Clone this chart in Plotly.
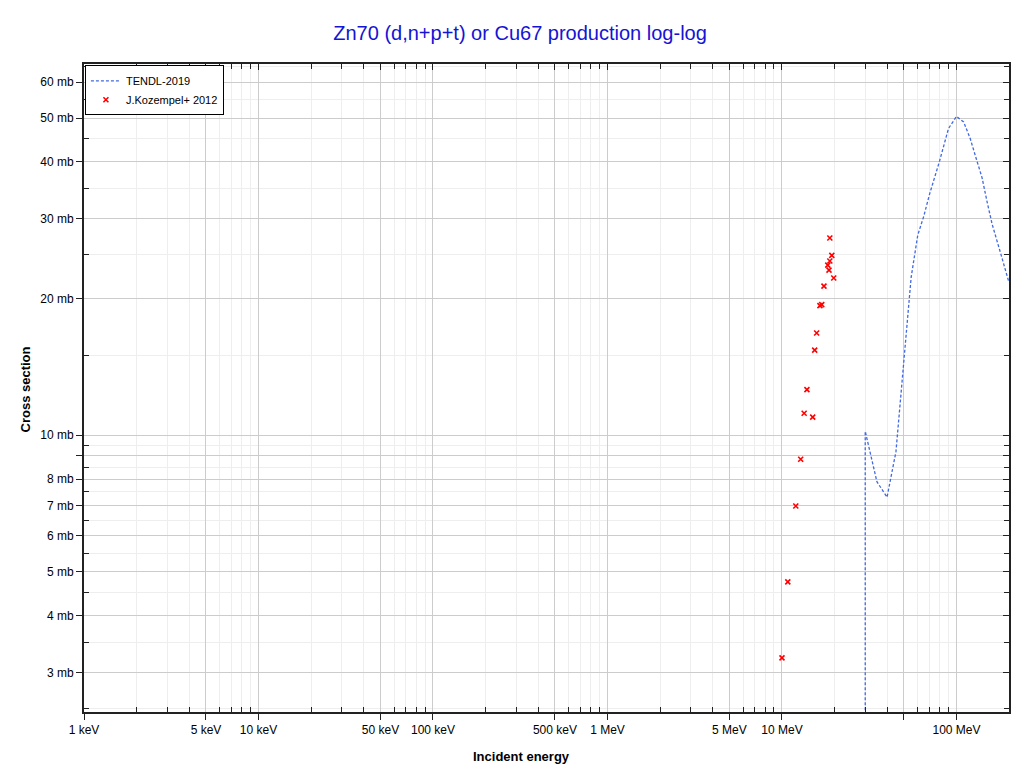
import numpy as np
import plotly.graph_objects as go

# TENDL-2019 evaluation (energy in MeV, cross section in mb)
tendl_e = [30, 30, 35, 37.5, 40, 45, 50, 55, 60, 65, 70, 80, 90, 100,
           110, 120, 130, 140, 150, 160, 180, 200]
tendl_xs = [0.001, 10.2, 7.9, 7.6, 7.3, 9.2, 14.7, 22.3, 27.6, 30.4, 33.9,
            40.2, 47.4, 50.4, 49.0, 45.0, 40.6, 37.0, 32.6, 29.2, 25.0, 21.7]

# J.Kozempel+ 2012 measurements
exp_e = [10.0, 10.8, 12.0, 12.8, 13.4, 15.0, 13.9, 15.4, 15.8, 16.5, 16.9,
         17.4, 19.8, 18.6, 18.3, 18.8, 19.3, 18.8]
exp_xs = [3.23, 4.75, 6.98, 8.85, 11.18, 10.96, 12.6, 15.4, 16.8, 19.3, 19.4,
          21.3, 22.2, 23.1, 23.7, 24.2, 24.9, 27.2]

x_ticks = [0.001, 0.005, 0.01, 0.05, 0.1, 0.5, 1, 5, 10, 50, 100]
x_labels = ["1 keV", "5 keV", "10 keV", "50 keV", "100 keV", "500 keV",
            "1 MeV", "5 MeV", "10 MeV", "", "100 MeV"]
x_minor = [m * d for d in [0.001, 0.01, 0.1, 1, 10, 100] for m in [2, 3, 4, 6, 7, 8, 9]]

y_ticks = [3, 4, 5, 6, 7, 8, 9, 10, 20, 30, 40, 50, 60]
y_labels = ["3 mb", "4 mb", "5 mb", "6 mb", "7 mb", "8 mb", "", "10 mb",
            "20 mb", "30 mb", "40 mb", "50 mb", "60 mb"]
y_minor = [2.5, 3.5, 4.5, 5.5, 6.5, 7.5, 8.5, 9.5, 15, 25, 35, 45, 55, 65]

x_range = [-3, np.log10(200)]
y_range = [0.39, 1.818]

font = "Liberation Sans, Arial, sans-serif"
major_grid = "#cccccc"
minor_grid = "#eeeeee"
axis_col = "#222222"

fig = go.Figure()
fig.add_trace(go.Scatter(
    x=tendl_e, y=tendl_xs, mode="lines", name="TENDL-2019",
    line=dict(color="#4169e1", width=1.3, dash="3px,2px"),
))
fig.add_trace(go.Scatter(
    x=exp_e, y=exp_xs, mode="markers", name="J.Kozempel+ 2012",
    marker=dict(symbol="x-thin", size=5, color="red",
                line=dict(color="red", width=1.6)),
))
# empty trace so the mirrored top/right axes get drawn
fig.add_trace(go.Scatter(x=[], y=[], xaxis="x2", yaxis="y2",
                         showlegend=False, hoverinfo="skip"))

axis_common = dict(showline=True, linecolor=axis_col, linewidth=2,
                   zeroline=False)

# page body has an 8px margin, keep the figure inside the 1020x773 window
fig.update_layout(
    width=1004, height=757,
    margin=dict(l=76, r=1, t=56, b=53),
    paper_bgcolor="white", plot_bgcolor="white",
    font=dict(family=font, size=12, color="black"),
    title=dict(text="Zn70 (d,n+p+t) or Cu67 production log-log",
               font=dict(size=20, color="#1414d4", family=font),
               x=0.51, xanchor="center", y=25 / 757, yref="container",
               yanchor="middle"),
    showlegend=True,
    legend=dict(x=0.001, y=0.998, xanchor="left", yanchor="top",
                bgcolor="white", bordercolor="black", borderwidth=1,
                font=dict(size=11, family=font), itemwidth=30,
                tracegroupgap=0),
    xaxis=dict(type="log", range=x_range, tickmode="array",
               tickvals=x_ticks, ticktext=x_labels, mirror=True,
               ticks="outside", ticklen=6, tickcolor=axis_col,
               showgrid=True, gridcolor=major_grid, gridwidth=1,
               minor=dict(tickmode="array", tickvals=x_minor,
                          ticks="inside", ticklen=5, tickcolor=axis_col,
                          showgrid=True, gridcolor=minor_grid),
               tickfont=dict(size=12), **axis_common),
    yaxis=dict(type="log", range=y_range, tickmode="array",
               tickvals=y_ticks, ticktext=y_labels, mirror=True,
               ticks="outside", ticklen=6, tickcolor=axis_col,
               showgrid=True, gridcolor=major_grid, gridwidth=1,
               minor=dict(tickmode="array", tickvals=y_minor,
                          ticks="inside", ticklen=5, tickcolor=axis_col,
                          showgrid=True, gridcolor=minor_grid),
               tickfont=dict(size=12), **axis_common),
    xaxis2=dict(type="log", range=x_range, overlaying="x", side="top",
                tickmode="array", tickvals=x_ticks, showticklabels=False,
                ticks="inside", ticklen=6, tickcolor=axis_col, showgrid=False,
                minor=dict(tickmode="array", tickvals=x_minor, ticks="inside",
                           ticklen=5, tickcolor=axis_col, showgrid=False),
                anchor="y2", **axis_common),
    yaxis2=dict(type="log", range=y_range, overlaying="y", side="right",
                tickmode="array", tickvals=y_ticks, showticklabels=False,
                ticks="inside", ticklen=6, tickcolor=axis_col, showgrid=False,
                minor=dict(tickmode="array", tickvals=y_minor, ticks="inside",
                           ticklen=5, tickcolor=axis_col, showgrid=False),
                anchor="x2", **axis_common),
    annotations=[
        dict(text="<b>Incident energy</b>", xref="paper", yref="paper",
             x=0.4725, y=-0.069, xanchor="center", yanchor="middle",
             showarrow=False, font=dict(size=13)),
        dict(text="<b>Cross section</b>", xref="paper", yref="paper",
             x=-0.0636, y=0.498, xanchor="center", yanchor="middle",
             textangle=-90, showarrow=False, font=dict(size=13)),
    ],
)
fig.update_layout(title_y=1 - 25 / 757)

fig.write_html("out.html")
